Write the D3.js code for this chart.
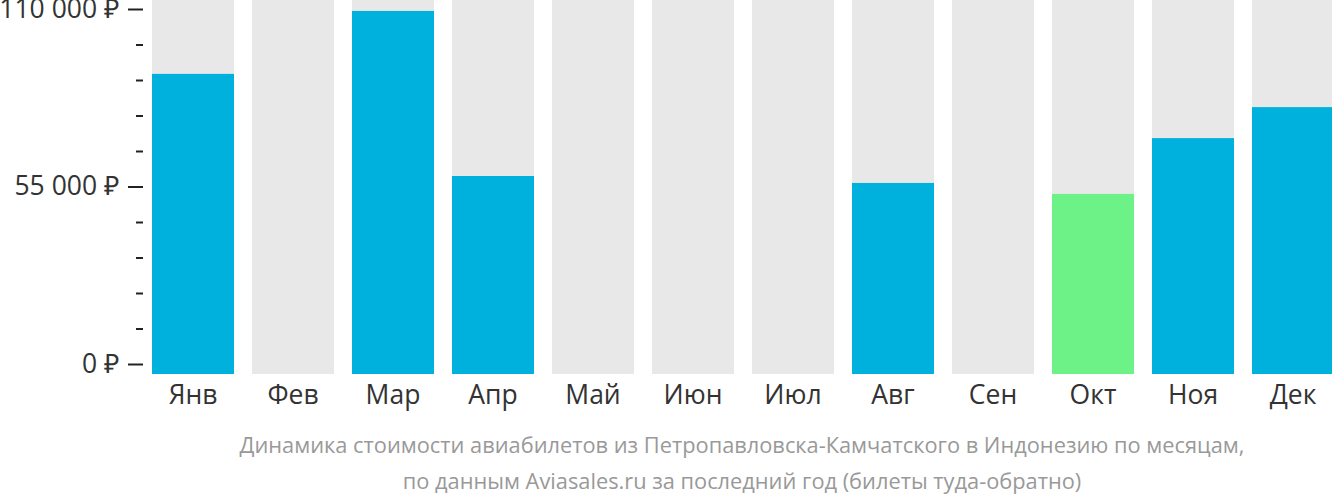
<!DOCTYPE html>
<html>
<head>
<meta charset="utf-8">
<script src="https://cdn.jsdelivr.net/npm/d3@7/dist/d3.min.js"></script>
<style>
  html, body { margin: 0; padding: 0; background: #fff; }
  svg { display: block; font-family: "Open Sans", sans-serif; }
</style>
</head>
<body>
<svg id="chart" width="1332" height="502"></svg>
<script>
const months = ["Янв", "Фев", "Мар", "Апр", "Май", "Июн", "Июл", "Авг", "Сен", "Окт", "Ноя", "Дек"];
const prices = [89900, null, 109400, 58250, null, null, null, 56100, null, 52700, 70000, 79600];
const cheapestMonth = "Окт";
const yTickValues = [0, 55000, 110000];
const captionLines = [
  "Динамика стоимости авиабилетов из Петропавловска-Камчатского в Индонезию по месяцам,",
  "по данным Aviasales.ru за последний год (билеты туда-обратно)"
];

const svg = d3.select("#chart");
const barBottom = 374;

const x = d3.scaleBand().domain(months).range([152, 1334]).paddingInner(0.18).paddingOuter(0);
const y = d3.scaleLinear().domain([0, 110000]).range([364, 9]);

const fmt = v => d3.format(",")(v).replace(/,/g, "\u00a0") + " ₽";

// background bars
svg.append("g").selectAll("rect").data(months).join("rect")
  .attr("x", d => x(d)).attr("y", 0)
  .attr("width", x.bandwidth()).attr("height", barBottom)
  .attr("fill", "#e8e8e8");

// value bars
svg.append("g").selectAll("rect").data(months.map((m, i) => ({m, v: prices[i]})).filter(d => d.v != null)).join("rect")
  .attr("x", d => x(d.m)).attr("y", d => y(d.v))
  .attr("width", x.bandwidth()).attr("height", d => barBottom - y(d.v))
  .attr("fill", d => d.m === cheapestMonth ? "#6df287" : "#00b1dd");

// y axis minor ticks
const minorTicks = d3.range(0, 110001, 11000).filter(v => !yTickValues.includes(v));
svg.append("g").attr("transform", "translate(143,0)")
  .call(d3.axisLeft(y).tickValues(minorTicks).tickSize(7).tickFormat(""))
  .call(g => g.select(".domain").remove())
  .call(g => g.selectAll("line").attr("stroke", "#222").attr("stroke-width", 2));

// y axis major
svg.append("g").attr("transform", "translate(143,0)")
  .call(d3.axisLeft(y).tickValues(yTickValues).tickSize(15).tickPadding(9).tickFormat(fmt))
  .call(g => g.select(".domain").remove())
  .call(g => g.selectAll("line").attr("stroke", "#222").attr("stroke-width", 2))
  .call(g => g.selectAll("text").attr("fill", "#333").style("font-size", "26.5px").style("font-family", "'Open Sans', sans-serif"));

// x labels
svg.append("g").attr("transform", `translate(0,${barBottom})`)
  .call(d3.axisBottom(x).tickSize(0).tickPadding(9))
  .call(g => g.select(".domain").remove())
  .call(g => g.selectAll("text").attr("fill", "#333").attr("dy", "0.8em").style("font-size", "26.5px").style("font-family", "'Open Sans', sans-serif"));

// caption
svg.append("g").selectAll("text").data(captionLines).join("text")
  .attr("x", 742).attr("y", (d, i) => 453 + i * 36)
  .attr("text-anchor", "middle")
  .attr("fill", "#999")
  .style("font-size", "21.8px")
  .text(d => d);
</script>
</body>
</html>
